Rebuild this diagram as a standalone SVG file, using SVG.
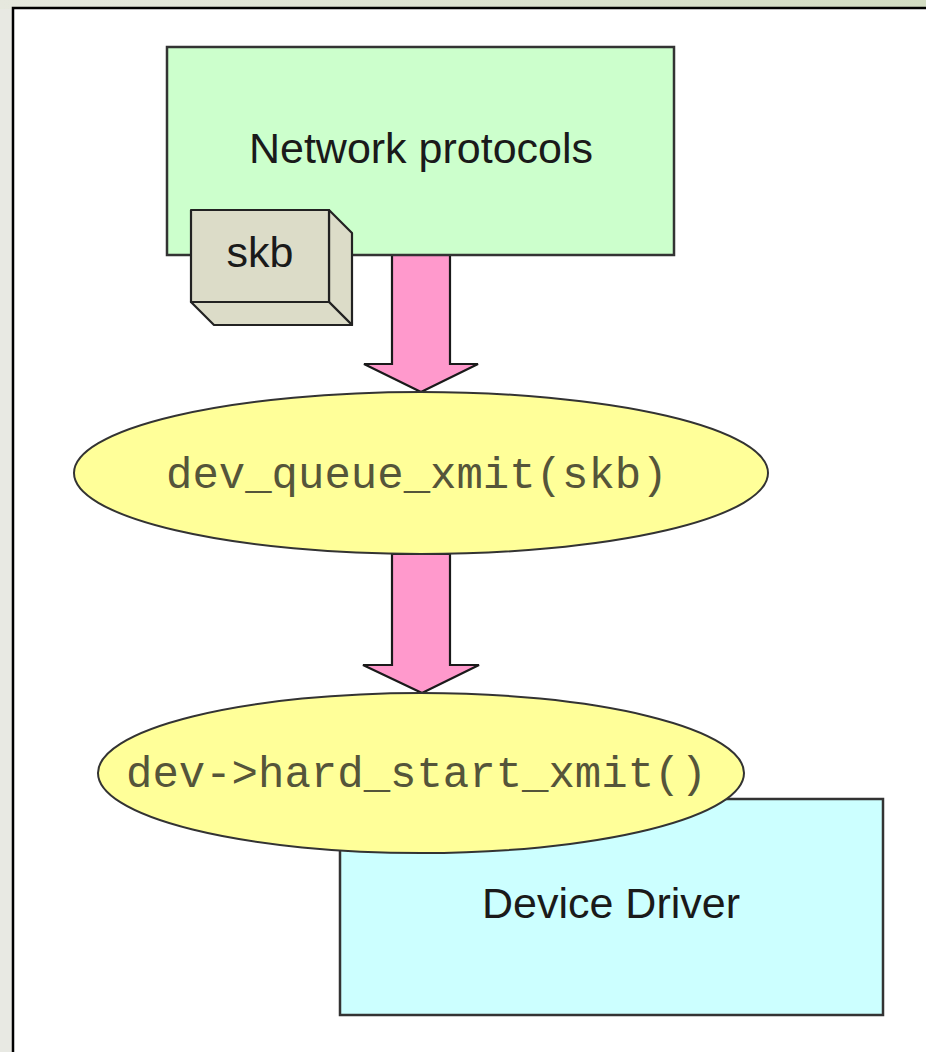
<svg xmlns="http://www.w3.org/2000/svg" width="926" height="1052" viewBox="0 0 926 1052">
  <style>
    .box { stroke: #333333; stroke-width: 2.5; }
    .label { font-family: "Liberation Sans", Arial, sans-serif; font-size: 43px; fill: #1a1a1a; }
    .code { font-family: "Liberation Mono", "Courier New", monospace; font-size: 44px; fill: #55553a; }
    .oval { fill: #ffff99; stroke: #333333; stroke-width: 2; }
    .flow { fill: #ff99cc; stroke: #1a1a1a; stroke-width: 2.2; stroke-linejoin: miter; }
    .cube { fill: #dcdcc8; stroke: #222222; stroke-width: 2.2; stroke-linejoin: round; }
  </style>
  <defs>
    <linearGradient id="page-top" x1="0" y1="0" x2="1" y2="0">
      <stop offset="0" stop-color="#e6e8de"/>
      <stop offset="1" stop-color="#d2dcc2"/>
    </linearGradient>
  </defs>

  <!-- page background and frame -->
  <rect x="0" y="0" width="926" height="1052" fill="#e8e9e3"/>
  <rect x="0" y="0" width="926" height="9" fill="url(#page-top)"/>
  <rect x="13" y="8" width="930" height="1060" fill="#ffffff" stroke="#000000" stroke-width="2.5"/>

  <!-- connectors -->
  <g id="connectors">
    <path class="flow" d="M392,255 L450,255 L450,364 L478,364 L421,392 L364,364 L392,364 Z"/>
    <path class="flow" d="M392,554 L450,554 L450,665 L479,665 L422,693 L363,665 L392,665 Z"/>
  </g>

  <!-- Network protocols layer -->
  <g id="network-protocols">
    <rect class="box" x="167" y="47" width="507" height="208" fill="#ccffcc"/>
    <text class="label" x="421" y="163" text-anchor="middle">Network protocols</text>
  </g>

  <!-- socket buffer drawn as a box -->
  <g id="skb">
    <path class="cube" d="M329,210 L352,233 L352,325 L329,302 Z"/>
    <path class="cube" d="M191,302 L329,302 L352,325 L214,325 Z"/>
    <rect class="cube" x="191" y="210" width="138" height="92"/>
    <text class="label" x="260" y="267" text-anchor="middle">skb</text>
  </g>

  <!-- queueing entry point -->
  <g id="dev-queue-xmit">
    <ellipse class="oval" cx="421" cy="473" rx="347" ry="81"/>
    <text class="code" x="166" y="488">dev_queue_xmit(skb)</text>
  </g>

  <!-- driver layer -->
  <g id="device-driver">
    <rect class="box" x="340" y="799" width="543" height="216" fill="#ccffff"/>
    <text class="label" x="611" y="918" text-anchor="middle">Device Driver</text>
  </g>

  <!-- driver transmit hook -->
  <g id="hard-start-xmit">
    <ellipse class="oval" cx="421" cy="773" rx="323" ry="80"/>
    <text class="code" x="126" y="787">dev-&gt;hard_start_xmit()</text>
  </g>
</svg>
